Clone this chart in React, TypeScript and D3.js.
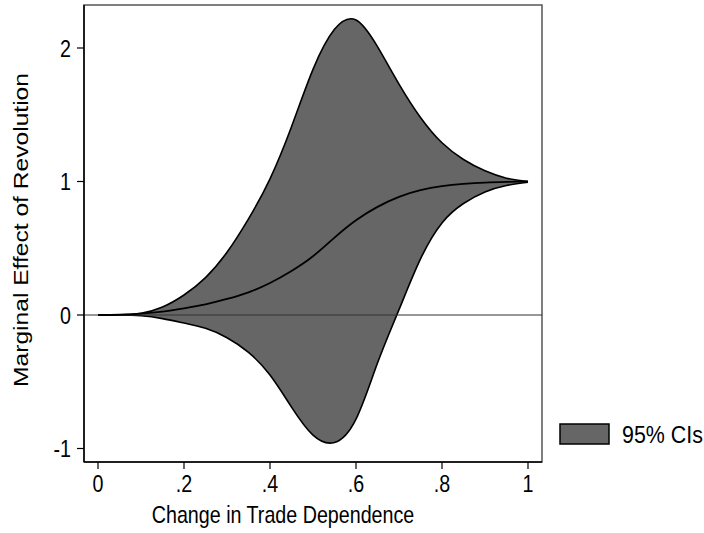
import React from "react";
import * as d3 from "d3";

const xValues = [0, 0.05, 0.1, 0.15, 0.2, 0.25, 0.3, 0.35, 0.4, 0.45, 0.5, 0.55, 0.6, 0.65, 0.7, 0.75, 0.8, 0.85, 0.9, 0.95, 1];
const midValues = [0, 0.002, 0.01, 0.025, 0.05, 0.08, 0.12, 0.17, 0.24, 0.33, 0.44, 0.58, 0.71, 0.81, 0.885, 0.935, 0.965, 0.982, 0.992, 0.997, 1];
const upperValues = [0, 0.002, 0.013, 0.06, 0.15, 0.28, 0.47, 0.72, 1.02, 1.41, 1.84, 2.14, 2.21, 2.01, 1.73, 1.48, 1.29, 1.165, 1.08, 1.025, 1.0];
const lowerValues = [0, 0, -0.006, -0.027, -0.06, -0.1, -0.17, -0.28, -0.45, -0.69, -0.9, -0.955, -0.78, -0.36, 0.04, 0.42, 0.69, 0.835, 0.922, 0.97, 0.995];
const xTicks = [0, 0.2, 0.4, 0.6, 0.8, 1];
const xTickLabels = ["0", ".2", ".4", ".6", ".8", "1"];
const yTicks = [-1, 0, 1, 2];
const yTickLabels = ["-1", "0", "1", "2"];
const xTitle = "Change in Trade Dependence";
const yTitle = "Marginal Effect of Revolution";
const legendLabel = "95% CIs";

const FONT = "'Liberation Sans', Arial, sans-serif";
const FILL = "#666666";
const FS = 24.6;
const SX = 0.8;

export default function App() {
  const W = 704, H = 533;
  const left = 84, right = 542, top = 5, bottom = 462;
  const x = d3.scaleLinear().domain([0, 1]).range([98, 528]);
  const y = d3.scaleLinear().domain([-1, 2]).range([448.5, 48]);

  const pts = xValues.map((v, i) => ({ x: v, m: midValues[i], u: upperValues[i], l: lowerValues[i] }));
  const curve = d3.curveNatural;
  const area = d3.area<any>().x((d) => x(d.x)).y0((d) => y(d.l)).y1((d) => y(d.u)).curve(curve);
  const upperLine = d3.line<any>().x((d) => x(d.x)).y((d) => y(d.u)).curve(curve);
  const lowerLine = d3.line<any>().x((d) => x(d.x)).y((d) => y(d.l)).curve(curve);
  const midLine = d3.line<any>().x((d) => x(d.x)).y((d) => y(d.m)).curve(curve);

  const T = (tx: number, ty: number, label: string, anchor: string, sx: number = SX) => (
    <text transform={`translate(${tx},${ty}) scale(${sx},1)`} dy="0.35em" textAnchor={anchor} fontSize={FS} fill="#000">{label}</text>
  );

  return (
    <svg width={W} height={H} style={{ position: "absolute", left: 0, top: 0, background: "#fff" }} fontFamily={FONT}>
      <rect x={0} y={0} width={W} height={H} fill="#fff" />
      <rect x={left} y={top} width={right - left} height={bottom - top} fill="none" stroke="#555" strokeWidth={1.5} />
      <path d={area(pts) || ""} fill={FILL} stroke="none" />
      <path d={upperLine(pts) || ""} fill="none" stroke="#000" strokeWidth={1.6} />
      <path d={lowerLine(pts) || ""} fill="none" stroke="#000" strokeWidth={1.6} />
      <line x1={left} x2={right} y1={y(0)} y2={y(0)} stroke="#333" strokeWidth={1.2} />
      <path d={midLine(pts) || ""} fill="none" stroke="#000" strokeWidth={1.8} />
      <line x1={left} x2={left} y1={top} y2={bottom} stroke="#000" strokeWidth={1.5} />
      <line x1={left} x2={right} y1={bottom} y2={bottom} stroke="#000" strokeWidth={1.5} />
      {yTicks.map((t, i) => (
        <g key={"y" + i}>
          <line x1={left - 7} x2={left} y1={y(t)} y2={y(t)} stroke="#000" strokeWidth={1.2} />
          {T(71, y(t), yTickLabels[i], "end")}
        </g>
      ))}
      {xTicks.map((t, i) => (
        <g key={"x" + i}>
          <line x1={x(t)} x2={x(t)} y1={bottom} y2={bottom + 7} stroke="#000" strokeWidth={1.2} />
          {T(x(t), 483, xTickLabels[i], "middle")}
        </g>
      ))}
      {T(283, 514, xTitle, "middle")}
      <text transform={`translate(28,230) scale(${SX},1) rotate(-90)`} textAnchor="middle" fontSize={FS} fill="#000">{yTitle}</text>
      <rect x={560} y={424} width={49} height={20} fill={FILL} stroke="#000" strokeWidth={1.5} />
      {T(622, 434, legendLabel, "start", 0.87)}
    </svg>
  );
}
